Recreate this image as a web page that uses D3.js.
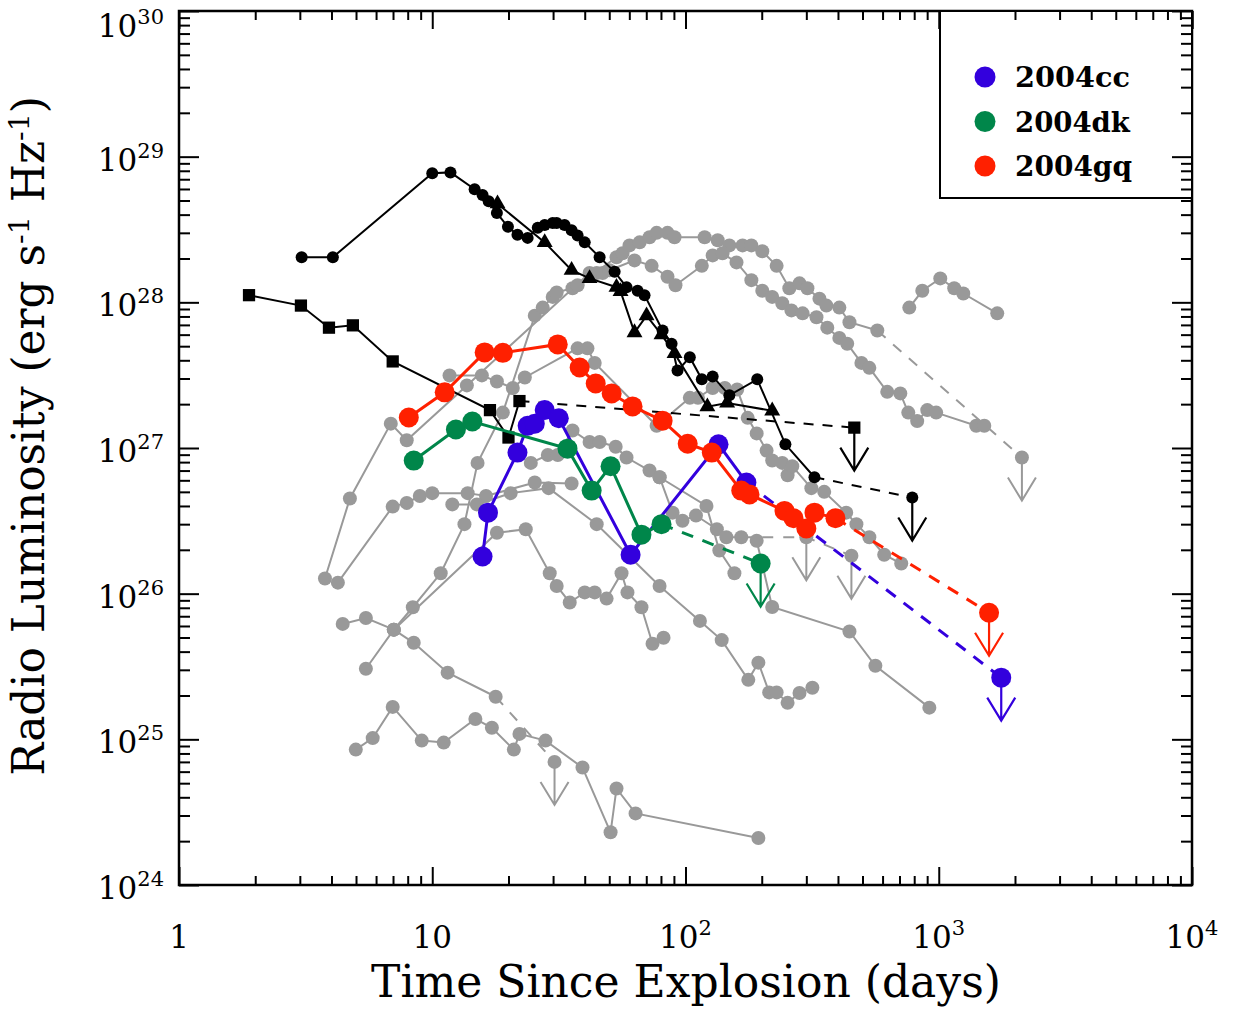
<!DOCTYPE html>
<html>
<head>
<meta charset="utf-8">
<script src="https://cdn.jsdelivr.net/npm/d3@7"></script>
<style>
  body { margin: 0; background: #fff; }
  text { font-family: "DejaVu Serif", serif; fill: #000; }
</style>
</head>
<body>
<div id="chart"></div>
<script>
// values: [days since explosion, radio luminosity erg/s/Hz]

// the three SNe of interest
var sn2004cc = [[15.8,1.80e26],[16.6,3.6e26],[21.7,9.3e26],[23.8,1.42e27],[25.4,1.47e27],[27.8,1.82e27],
  [31.6,1.60e27],[60.7,1.85e26],[135,1.06e27],[174,5.8e26]];
var sn2004ccLimit = [1765,2.65e25];

var sn2004dk = [[8.45,8.2e26],[12.4,1.34e27],[14.4,1.52e27],[34.2,9.9e26],[42.6,5.1e26],[50.6,7.5e26],
  [67.0,2.54e26],[80.4,3.0e26]];
var sn2004dkLimit = [198,1.61e26];

var sn2004gq = [[8.08,1.62e27],[11.2,2.41e27],[16.1,4.53e27],[19.0,4.5e27],[31.3,5.14e27],[38.2,3.57e27],
  [44.2,2.77e27],[51.1,2.37e27],[61.8,1.93e27],[81.2,1.54e27],[102,1.07e27],[127,9.3e26],[166,5.1e26],
  [179,4.8e26],[246,3.7e26],[267,3.3e26],[300,2.8e26],[323,3.6e26],[391,3.3e26]];
var sn2004gqLimit = [1580,7.4e25];

// black comparison curves
var blackCircles = [[3.05,2.04e28],[4.05,2.04e28],[10.0,7.7e28],[11.8,7.8e28],[14.7,5.98e28],[15.8,5.45e28],
  [16.7,4.94e28],[18.0,4.1e28],[19.9,3.3e28],[21.7,2.91e28],[23.8,2.77e28],[26.1,3.25e28],[27.8,3.4e28],
  [29.9,3.5e28],[31.0,3.5e28],[33.3,3.4e28],[35.5,3.13e28],[37.5,2.88e28],[40.0,2.58e28],[45.8,2.04e28],
  [52.5,1.62e28],[58.5,1.27e28],[64.7,1.2e28],[68.9,1.12e28],[81.2,6.4e27],[88.1,5.2e27],[93.0,3.4e27],
  [104,4.2e27],[116,2.96e27],[128,3.1e27],[149,2.3e27],[192,2.96e27],[248,1.06e27],[323,6.3e26]];
var blackCirclesLimit = [786,4.57e26];

var blackTriangles = [[18.1,4.75e28],[27.8,2.58e28],[35.5,1.66e28],[41.8,1.46e28],[53.4,1.27e28],
  [55.4,1.19e28],[62.9,6.2e27],[70.2,8.1e27],[80.4,6.0e27],[90.5,4.46e27],[122,1.92e27],[146,2.04e27],
  [220,1.80e27]];

var blackSquares = [[1.89,1.12e28],[3.03,9.5e27],[3.91,6.7e27],[4.86,6.95e27],[6.98,3.93e27],[16.9,1.82e27],
  [20.0,1.18e27],[22.1,2.1e27]];
var blackSquaresLimit = [464,1.38e27];

// grey comparison curves
var grayA = [[4.99,8.5e24],[5.82,1.02e25],[6.98,1.67e25],[9.09,9.8e24],[11.1,9.5e24],[14.8,1.38e25],
  [17.2,1.2e25],[21.0,8.5e24],[22.1,1.09e25],[28.0,9.8e24],[39.2,6.4e24],[50.6,2.3e24],[53.4,4.6e24],
  [63.5,3.1e24],[194,2.1e24]];
var grayB = [[4.43,6.2e25],[5.47,6.8e25],[7.05,5.66e25],[8.45,4.6e25],[11.5,2.87e25],[17.8,1.96e25]];
var grayBLimit = [30.4,7.0e24];
var grayC = [[5.47,3.05e25],[7.05,5.66e25],[8.38,8.07e25],[10.8,1.38e26],[13.4,3.0e26],[15.1,7.9e26],
  [19.0,1.75e27],[25.4,8.1e27],[27.3,9.2e27],[29.9,1.09e28],[31.0,1.17e28],[35.8,1.25e28],[37.5,1.31e28],
  [53.4,2.04e28],[56.4,2.17e28],[60.1,2.46e28],[65.9,2.58e28],[72.1,2.8e28],[76.9,3.0e28],[84.9,3.0e28],
  [90.5,2.8e28],[119,2.8e28],[134,2.67e28],[149,2.46e28],[168,2.46e28],[182,2.46e28],[201,2.24e28],
  [229,1.78e28],[257,1.25e28],[282,1.35e28],[303,1.25e28],[338,1.06e28],[360,9.5e27],[405,9.2e27],
  [444,7.3e27],[572,6.4e27]];
var grayCLimit = [2130,8.6e26];
var grayD = [[3.77,1.27e26],[4.73,4.5e26],[6.86,1.47e27],[7.93,1.13e27],[13.7,2.69e27],[41.8,1.59e28],
  [44.6,1.59e28],[47.1,1.59e28],[50.1,1.66e28],[62.9,1.94e28],[73.5,1.78e28],[84.9,1.5e28],[91.3,1.31e28],
  [116,1.78e28],[128,2.1e28],[140,2.17e28],[159,1.88e28],[182,1.42e28],[201,1.2e28],[220,1.09e28],
  [241,9.85e27],[262,8.8e27],[290,8.4e27],[329,7.9e27],[363,6.7e27],[405,5.7e27],[435,5.2e27],
  [495,3.84e27],[532,3.55e27],[626,2.43e27],[705,2.37e27],[758,1.75e27],[822,1.53e27],[901,1.82e27],
  [977,1.75e27],[1406,1.42e27],[1513,1.42e27]];
var grayE = [[11.7,3.15e27],[15.7,3.15e27],[18.0,2.86e27],[20.8,2.58e27],[23.2,3.05e27],[37.5,4.83e27],
  [41.0,4.83e27],[43.8,3.84e27],[76.9,1.42e27],[104,2.21e27],[112,2.21e27],[128,2.58e27],[143,2.58e27],
  [160,2.52e27],[176,1.61e27],[191,1.26e27],[209,9.6e26],[220,8.2e26],[241,7.9e26],[253,6.5e26],
  [264,7.5e26],[314,5.3e26],[353,5.0e26],[431,3.6e26],[473,3.0e26],[532,2.44e26],[609,1.85e26],
  [711,1.61e26]];
var grayF = [[4.24,1.19e26],[6.98,3.96e26],[7.93,4.2e26],[8.93,4.68e26],[10.0,4.9e26],[13.8,4.9e26],
  [16.3,4.68e26],[25.4,5.8e26],[35.5,5.7e26]];
var grayG = [[12.0,4.1e26],[15.0,4.1e26],[20.4,4.9e26],[28.8,5.3e26],[44.6,3.0e26],[79.0,1.13e26],
  [114,6.5e25],[139,4.8e25],[177,2.56e25],[194,3.36e25],[214,2.1e25],[229,2.1e25],[253,1.78e25],
  [282,2.08e25],[317,2.26e25]];
var grayH = [[7.05,5.66e25],[18.0,2.62e26],[23.4,2.77e26],[29.1,1.38e26],[31.0,1.13e26],[34.9,8.7e25],
  [40.0,1.02e26],[43.8,1.02e26],[48.8,9.25e25],[55.9,1.38e26],[59.0,1.02e26],[67.0,8.07e25],
  [74.1,4.53e25],[81.9,4.98e25]];
var grayI = [[24.5,7.9e26],[28.6,8.95e26],[31.3,8.95e26],[35.8,1.32e27],[41.8,1.10e27],[45.8,1.10e27],
  [53.0,1.02e27],[58.5,8.6e26],[72.1,7.0e26],[79.0,6.3e26],[88.9,3.6e26],[97.3,3.17e26],[110,3.44e26],
  [133,2.77e26],[145,2.44e26],[166,2.44e26]];
var grayILimits = [[300,2.44e26],[452,1.82e26]];
var grayJ = [[79.0,6.3e26],[121,4.0e26],[136,1.98e26],[156,1.38e26]];
var grayK = [[191,2.31e26],[220,8.1e25],[444,5.5e25],[562,3.2e25],[918,1.65e25]];
var grayL = [[765,9.2e27],[861,1.2e28],[1014,1.46e28],[1151,1.25e28],[1250,1.15e28],[1702,8.4e27]];

var legendNames = ["2004cc", "2004dk", "2004gq"];
var xTickLabels = [["1",""],["10",""],["10","2"],["10","3"],["10","4"]];
var yTickExps = [24, 25, 26, 27, 28, 29, 30];

// layout
var svgWidth = 1242, svgHeight = 1009;
var plot = {left: 179, right: 1192, top: 11, bottom: 885};
var grey = "#999999", blue = "#3300dd", green = "#00864a", red = "#ff2000";

var svg = d3.select("#chart").append("svg")
  .attr("width", svgWidth).attr("height", svgHeight);

var x = d3.scaleLog().domain([1, 1e4]).range([plot.left, plot.right]);
var y = d3.scaleLog().domain([1e24, 1e30]).range([plot.bottom, plot.top]);

var line = d3.line().x(d => x(d[0])).y(d => y(d[1]));

// ticks
var xMajor = [1, 10, 100, 1000, 10000];
var xMinor = [];
[1, 10, 100, 1000].forEach(function(d) { for (var k = 2; k < 10; k++) xMinor.push(d * k); });
var yMajor = yTickExps.map(e => Math.pow(10, e));
var yMinor = [];
yTickExps.slice(0, -1).forEach(function(e) { for (var k = 2; k < 10; k++) yMinor.push(k * Math.pow(10, e)); });

function tickAxis(axis, pos, values, size) {
  var g = svg.append("g").attr("transform", pos)
    .call(axis.tickValues(values).tickSize(size).tickFormat(""));
  g.select(".domain").remove();
  g.selectAll("line").attr("stroke", "#000").attr("stroke-width", 2);
}
tickAxis(d3.axisBottom(x), `translate(0,${plot.bottom})`, xMajor, -18);
tickAxis(d3.axisBottom(x), `translate(0,${plot.bottom})`, xMinor, -9);
tickAxis(d3.axisTop(x), `translate(0,${plot.top})`, xMajor, -18);
tickAxis(d3.axisTop(x), `translate(0,${plot.top})`, xMinor, -9);
tickAxis(d3.axisLeft(y), `translate(${plot.left},0)`, yMajor, -20);
tickAxis(d3.axisLeft(y), `translate(${plot.left},0)`, yMinor, -11);
tickAxis(d3.axisRight(y), `translate(${plot.right},0)`, yMajor, -20);
tickAxis(d3.axisRight(y), `translate(${plot.right},0)`, yMinor, -11);

svg.append("rect")
  .attr("x", plot.left).attr("y", plot.top)
  .attr("width", plot.right - plot.left).attr("height", plot.bottom - plot.top)
  .attr("fill", "none").attr("stroke", "#000").attr("stroke-width", 2.5);

// tick labels
xTickLabels.forEach(function(lab, i) {
  var t = svg.append("text")
    .attr("x", x(xMajor[i])).attr("y", 948)
    .attr("text-anchor", "middle").attr("font-size", 31);
  t.append("tspan").text(lab[0]);
  if (lab[1]) t.append("tspan").attr("dy", -13).attr("font-size", 21).text(lab[1]);
});
yTickExps.forEach(function(e) {
  // the top label sits lower so it stays inside the page
  var base = e === 30 ? 37 : y(Math.pow(10, e)) + 14;
  var t = svg.append("text")
    .attr("x", 164).attr("y", base)
    .attr("text-anchor", "end").attr("font-size", 31);
  t.append("tspan").text("10");
  t.append("tspan").attr("dy", -13).attr("font-size", 21).text(e);
});

// axis titles, stretched to the widths in the figure
function fitWidth(t, target) {
  var w = t.node().getComputedTextLength();
  var fs = +t.attr("font-size");
  t.attr("font-size", fs * target / w);
}
var xTitle = svg.append("text")
  .attr("x", 686).attr("y", 997)
  .attr("text-anchor", "middle").attr("font-size", 34)
  .text("Time Since Explosion (days)");
fitWidth(xTitle, 630);

var yTitle = svg.append("text")
  .attr("transform", "translate(44,436) rotate(-90)")
  .attr("text-anchor", "middle").attr("font-size", 34);
yTitle.append("tspan").text("Radio Luminosity (erg s");
yTitle.append("tspan").attr("dy", -12).attr("font-size", 22).text("-1");
yTitle.append("tspan").attr("dy", 12).text(" Hz");
yTitle.append("tspan").attr("dy", -12).attr("font-size", 22).text("-1");
yTitle.append("tspan").attr("dy", 12).text(")");
(function() {
  var w = yTitle.node().getBBox().width;
  var s = 680 / w;
  yTitle.attr("font-size", 34 * s);
  yTitle.selectAll("tspan").each(function() {
    var el = d3.select(this);
    if (el.attr("font-size")) el.attr("font-size", +el.attr("font-size") * s);
    if (el.attr("dy")) el.attr("dy", +el.attr("dy") * s);
  });
})();

// data layer
var data = svg.append("g");

function drawLimit(p, color, width) {
  var px = x(p[0]), py = y(p[1]);
  data.append("path")
    .attr("d", `M${px},${py}V${py + 43}M${px - 14},${py + 20}L${px},${py + 43}L${px + 14},${py + 20}`)
    .attr("fill", "none").attr("stroke", color).attr("stroke-width", width);
}

function drawCurve(pts, color, width, dashTo, dash) {
  data.append("path").datum(pts).attr("d", line)
    .attr("fill", "none").attr("stroke", color).attr("stroke-width", width);
  if (dashTo) {
    data.append("path").datum([pts[pts.length - 1]].concat(dashTo)).attr("d", line)
      .attr("fill", "none").attr("stroke", color).attr("stroke-width", width)
      .attr("stroke-dasharray", dash);
  }
}

function drawDots(pts, color, r) {
  data.append("g").selectAll("circle").data(pts).enter().append("circle")
    .attr("cx", d => x(d[0])).attr("cy", d => y(d[1])).attr("r", r).attr("fill", color);
}

function drawSymbols(pts, type, size, color) {
  data.append("g").selectAll("path").data(pts).enter().append("path")
    .attr("d", d3.symbol().type(type).size(size))
    .attr("transform", d => `translate(${x(d[0])},${y(d[1])})`)
    .attr("fill", color);
}

// grey curves
var greyCurves = [grayA, grayB, grayC, grayD, grayE, grayF, grayG, grayH, grayI, grayJ, grayK, grayL];
greyCurves.forEach(function(c) {
  var lim = c === grayB ? [grayBLimit] : c === grayC ? [grayCLimit] : c === grayI ? grayILimits : null;
  drawCurve(c, grey, 2, lim, "11,10");
});
drawLimit(grayBLimit, grey, 2);
drawLimit(grayCLimit, grey, 2);
grayILimits.forEach(p => drawLimit(p, grey, 2));
greyCurves.forEach(c => drawDots(c, grey, 7));
drawDots([grayBLimit, grayCLimit].concat(grayILimits), grey, 7);

// black curves
drawCurve(blackSquares, "#000", 2, [blackSquaresLimit], "10,9");
drawCurve(blackCircles, "#000", 2, [blackCirclesLimit], "10,9");
drawCurve(blackTriangles, "#000", 2);
drawLimit(blackSquaresLimit, "#000", 2.2);
drawLimit(blackCirclesLimit, "#000", 2.2);
drawSymbols(blackSquares.concat([blackSquaresLimit]), d3.symbolSquare, 150, "#000");
drawDots(blackCircles.concat([blackCirclesLimit]), "#000", 6);
drawSymbols(blackTriangles, d3.symbolTriangle, 110, "#000");

// highlighted SNe
[[sn2004cc, sn2004ccLimit, blue], [sn2004dk, sn2004dkLimit, green], [sn2004gq, sn2004gqLimit, red]]
  .forEach(function(s) {
    drawCurve(s[0], s[2], 3, [s[1]], "12,10");
    drawLimit(s[1], s[2], 2.2);
  });
[[sn2004cc, sn2004ccLimit, blue], [sn2004dk, sn2004dkLimit, green], [sn2004gq, sn2004gqLimit, red]]
  .forEach(function(s) { drawDots(s[0].concat([s[1]]), s[2], 10); });

// legend
svg.append("rect")
  .attr("x", 940).attr("y", plot.top).attr("width", plot.right - 940).attr("height", 187)
  .attr("fill", "#fff").attr("stroke", "#000").attr("stroke-width", 2);
[blue, green, red].forEach(function(c, i) {
  svg.append("circle").attr("cx", 985).attr("cy", 77 + i * 44.5).attr("r", 10.5).attr("fill", c);
  var t = svg.append("text")
    .attr("x", 1015).attr("y", 87 + i * 44.5)
    .attr("font-size", 28).attr("font-weight", "bold")
    .text(legendNames[i]);
  fitWidth(t, i === 2 ? 117 : 115);
});
// redraw right axis ticks over the legend box
tickAxis(d3.axisRight(y), `translate(${plot.right},0)`, yMajor.filter(v => y(v) < 200), -20);
tickAxis(d3.axisRight(y), `translate(${plot.right},0)`, yMinor.filter(v => y(v) < 200), -11);
tickAxis(d3.axisTop(x), `translate(0,${plot.top})`, xMajor.filter(v => x(v) > 940), -18);
tickAxis(d3.axisTop(x), `translate(0,${plot.top})`, xMinor.filter(v => x(v) > 940), -9);
</script>
</body>
</html>
